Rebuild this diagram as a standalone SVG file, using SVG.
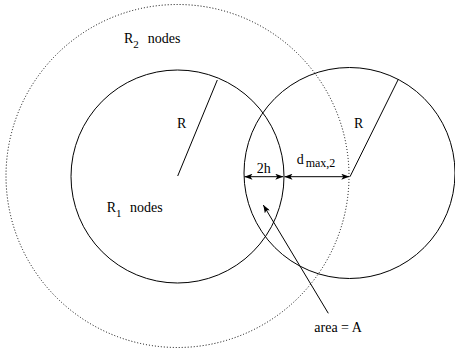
<svg xmlns="http://www.w3.org/2000/svg" width="455" height="356" viewBox="0 0 455 356">
<style>
.c{fill:none;stroke:#000;stroke-width:1}
.d{fill:none;stroke:#000;stroke-width:1;stroke-dasharray:1 2}
.l{fill:none;stroke:#000;stroke-width:1}
text{font-family:'Liberation Serif','Times New Roman','DejaVu Serif',serif;font-size:14px;fill:#000}
.s{font-size:11px}
.s2{font-size:12px}
</style>
<defs>
<marker id="ah" viewBox="0 0 8 6" refX="8" refY="3" markerWidth="8" markerHeight="6" markerUnits="userSpaceOnUse" orient="auto-start-reverse">
<path d="M0,0 L8,3 L0,6 L2,3 Z" fill="#000"/>
</marker>
</defs>
<rect width="455" height="356" fill="#fff"/>
<g id="outer-region">
<circle class="d" cx="177.5" cy="176" r="171.5"/>
</g>
<g id="left-circle">
<circle class="c" cx="177.5" cy="176.5" r="106.5"/>
</g>
<g id="right-circle">
<circle class="c" cx="349.5" cy="173" r="105.5"/>
</g>
<g id="connectors">
<line class="l" x1="177.7" y1="176" x2="217.3" y2="80"/>
<line class="l" x1="350" y1="176.7" x2="398.3" y2="79.3"/>
<line class="l" x1="244.5" y1="176.7" x2="283.3" y2="176.7" marker-start="url(#ah)" marker-end="url(#ah)"/>
<line class="l" x1="284.5" y1="176.7" x2="349.3" y2="176.7" marker-start="url(#ah)" marker-end="url(#ah)"/>
<line class="l" x1="328.3" y1="313.3" x2="263.3" y2="205" marker-end="url(#ah)"/>
</g>
<g id="labels">
<text x="124" y="43.3" font-family="Liberation Serif, serif">R<tspan class="s" dy="5">2</tspan><tspan dy="-5" x="147.7">nodes</tspan></text>
<text x="106.7" y="211.7" font-family="Liberation Serif, serif">R<tspan class="s" dy="5">1</tspan><tspan dy="-5" x="130">nodes</tspan></text>
<text x="177" y="128" font-family="Liberation Serif, serif">R</text>
<text x="354" y="127.7" font-family="Liberation Serif, serif">R</text>
<text x="256.7" y="172.7" font-family="Liberation Serif, serif">2h</text>
<text x="296.7" y="164.3" font-family="Liberation Serif, serif">d<tspan class="s2" x="305.7" dy="2.4">max,2</tspan></text>
<text x="314.3" y="331.7" font-family="Liberation Serif, serif">area = A</text>
</g>
</svg>
